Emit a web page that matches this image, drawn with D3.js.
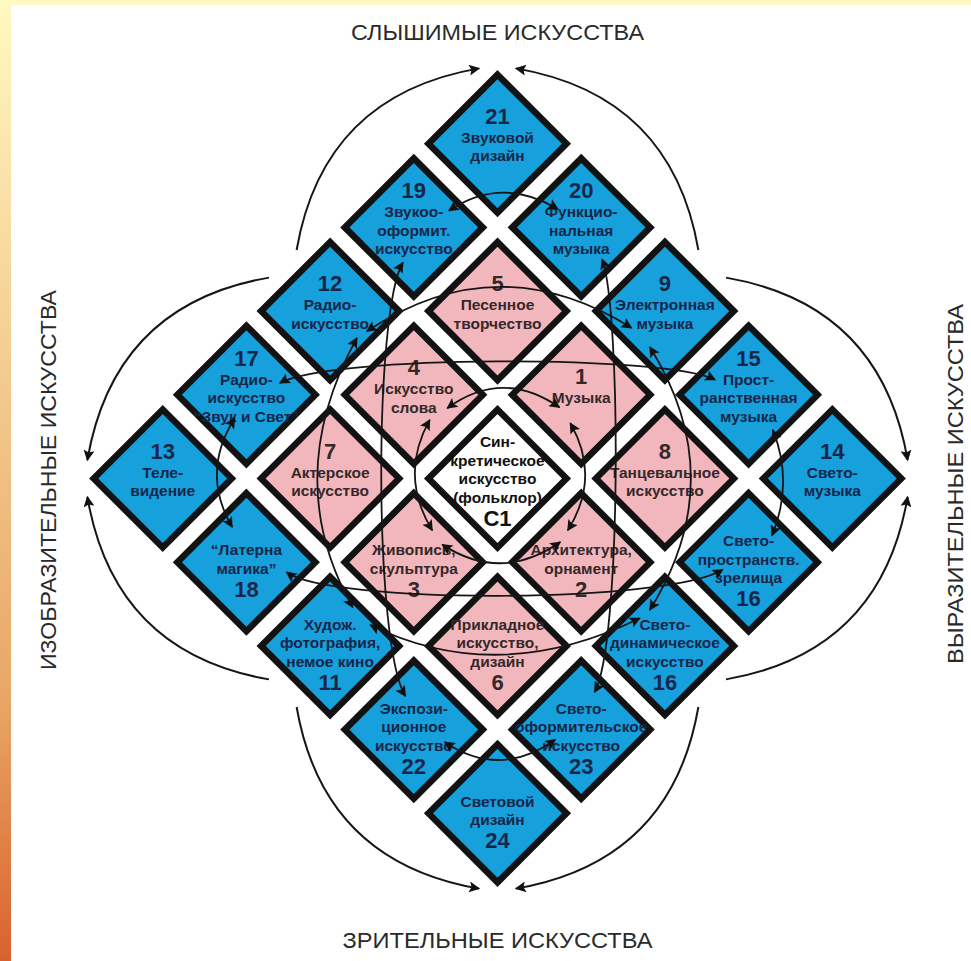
<!DOCTYPE html>
<html>
<head>
<meta charset="utf-8">
<script src="https://cdn.jsdelivr.net/npm/d3@7"></script>
<style>
  body { margin: 0; background: #fff; }
  svg { display: block; }
</style>
</head>
<body>
<div id="chart"></div>
<script>
// lattice of diamonds: column / row in units of the rotated grid
var cellCol = [0, -1, 1, -2, 0, 2, -3, -1, 1, 3, -4, -2, 0, 2, 4, -3, -1, 1, 3, -2, 0, 2, -1, 1, 0];
var cellRow = [-4, -3, -3, -2, -2, -2, -1, -1, -1, -1, 0, 0, 0, 0, 0, 1, 1, 1, 1, 2, 2, 2, 3, 3, 4];
// b = blue (синтетические), p = pink (базовые), w = centre
var cellKind = ['b','b','b','b','p','b','b','p','p','b','b','p','w','p','b','b','p','p','b','b','p','b','b','b','b'];
var cellNum = ['21','19','20','12','5','9','17','4','1','15','13','7','С1','8','14','18','3','2','16','11','6','16','22','23','24'];
var numTop = [1,1,1,1,1,1,1,1,1,1,1,1,0,1,1,0,0,0,0,0,0,0,0,0,0];
var cellLines = [
  ['Звуковой', 'дизайн'],
  ['Звукоо-', 'оформит.', 'искусство'],
  ['Функцио-', 'нальная', 'музыка'],
  ['Радио-', 'искусство'],
  ['Песенное', 'творчество'],
  ['Электронная', 'музыка'],
  ['Радио-', 'искусство', '\u201CЗвук и Свет\u201D'],
  ['Искусство', 'слова'],
  ['Музыка'],
  ['Прост-', 'ранственная', 'музыка'],
  ['Теле-', 'видение'],
  ['Актерское', 'искусство'],
  ['Син-', 'кретическое', 'искусство', '(фольклор)'],
  ['Танцевальное', 'искусство'],
  ['Свето-', 'музыка'],
  ['\u201CЛатерна', 'магика\u201D'],
  ['Живопись,', 'скульптура'],
  ['Архитектура,', 'орнамент'],
  ['Свето-', 'пространств.', 'зрелища'],
  ['Худож.', 'фотография,', 'немое кино'],
  ['Прикладное', 'искусство,', 'дизайн'],
  ['Свето-', 'динамическое', 'искусство'],
  ['Экспози-', 'ционное', 'искусство'],
  ['Свето-', 'оформительское', 'искусство'],
  ['Световой', 'дизайн']
];

// side captions
var sideNames = ['СЛЫШИМЫЕ ИСКУССТВА', 'ЗРИТЕЛЬНЫЕ ИСКУССТВА', 'ИЗОБРАЗИТЕЛЬНЫЕ ИСКУССТВА', 'ВЫРАЗИТЕЛЬНЫЕ ИСКУССТВА'];

// arrows, points in grid units [x, y] : start, control(s), end
var outerArcs = [
  [[-2.4, -2.73], [-2.08, -4.58], [-0.22, -4.9]],
  [[2.4, -2.73], [2.08, -4.58], [0.22, -4.9]],
  [[-2.73, -2.4], [-4.58, -2.08], [-4.9, -0.22]],
  [[-2.73, 2.4], [-4.58, 2.08], [-4.9, 0.22]],
  [[-2.4, 2.73], [-2.08, 4.58], [-0.22, 4.9]],
  [[2.4, 2.73], [2.08, 4.58], [0.22, 4.9]],
  [[2.73, -2.4], [4.58, -2.08], [4.9, -0.22]],
  [[2.73, 2.4], [4.58, 2.08], [4.9, 0.22]]
];
var innerLinks = [
  // 19 - 20 over 21
  [[-0.58, -3.2], [0.05, -3.62], [0.72, -3.22]],
  // 12 - 9 over 5
  [[-1.56, -1.76], [0, -2.8], [1.6, -1.8]],
  // 11 - 16 under 6
  [[-1.52, 1.75], [0, 2.5], [1.7, 1.67]],
  // 12 - 11 through 7
  [[-1.68, -1.68], [-2.6, 0], [-1.73, 1.54]],
  // 9 - 16 through 8
  [[1.82, -1.57], [2.8, 0], [1.82, 1.57]],
  // 17 - 15
  [[-2.6, -1.14], [-2.0, -1.48], [2.0, -1.48], [2.6, -1.18]],
  // 18 - 16
  [[-2.52, 1.12], [-2.0, 1.5], [2.0, 1.5], [2.69, 1.09]],
  // 19 - 22
  [[-1.13, -2.58], [-1.48, -2.0], [-1.48, 2.0], [-1.1, 2.6]],
  // 20 - 23
  [[1.25, -2.62], [1.48, -2.0], [1.48, 2.0], [1.16, 2.55]],
  // 17 - 18 via 13
  [[-3.14, -0.72], [-3.55, -0.07], [-3.17, 0.58]],
  // 15 - 16 via 14
  [[3.29, -0.58], [3.54, 0.05], [3.28, 0.68]],
  // 22 - 23 under 24
  [[-0.63, 3.15], [0.03, 3.59], [0.69, 3.12]],
  // around C1
  [[-0.6, -0.84], [0.06, -1.32], [0.74, -0.85]],
  [[-0.66, 0.79], [0.05, 1.25], [0.75, 0.76]],
  [[-0.81, -0.7], [-1.18, -0.04], [-0.78, 0.62]],
  [[0.87, -0.66], [1.24, -0.02], [0.84, 0.62]]
];

var W = 971, H = 961;
var cx = 497.5, cy = 478.5, step = 83.7, half = 69;
var fillColor = { b: '#16a0dc', p: '#f2b7bc', w: '#ffffff' };
var textColor = { b: '#172649', p: '#35282a', w: '#111111' };

var x = d3.scaleLinear().domain([-1, 1]).range([cx - step, cx + step]);
var y = d3.scaleLinear().domain([-1, 1]).range([cy - step, cy + step]);

var svg = d3.select('#chart').append('svg')
  .attr('width', W)
  .attr('height', H);

var defs = svg.append('defs');
var grad = defs.append('linearGradient')
  .attr('id', 'strip')
  .attr('x1', 0).attr('y1', 0).attr('x2', 0).attr('y2', 1);
grad.append('stop').attr('offset', '0').attr('stop-color', '#fff9c2');
grad.append('stop').attr('offset', '0.3').attr('stop-color', '#f6d59a');
grad.append('stop').attr('offset', '0.73').attr('stop-color', '#e8a666');
grad.append('stop').attr('offset', '1').attr('stop-color', '#d9622c');

defs.append('marker')
  .attr('id', 'head')
  .attr('viewBox', '0 0 10 10')
  .attr('refX', 9).attr('refY', 5)
  .attr('markerUnits', 'userSpaceOnUse')
  .attr('markerWidth', 15).attr('markerHeight', 11)
  .attr('orient', 'auto-start-reverse')
  .append('path')
  .attr('d', 'M0,0 L10,5 L0,10 L2,5 z')
  .attr('fill', '#111');

// frame: yellow top band and orange strip on the left
svg.append('rect').attr('x', 0).attr('y', 0).attr('width', W).attr('height', 5).attr('fill', '#fff9c2');
svg.append('rect').attr('x', 0).attr('y', 0).attr('width', 11).attr('height', H).attr('fill', 'url(#strip)');

// diamonds
var cells = svg.append('g');
for (var i = 0; i < cellCol.length; i++) {
  var px = x(cellCol[i]), py = y(cellRow[i]);
  cells.append('path')
    .attr('d', 'M' + px + ',' + (py - half) + 'L' + (px + half) + ',' + py +
               'L' + px + ',' + (py + half) + 'L' + (px - half) + ',' + py + 'Z')
    .style('fill', fillColor[cellKind[i]])
    .style('stroke', '#121212')
    .style('stroke-width', 6.5)
    .style('stroke-linejoin', 'miter');
}

// labels: number above the text in the upper half, below it in the lower half
var numSize = 22, lblSize = 15.5, numH = 24, lblH = 18.5;
for (var i = 0; i < cellCol.length; i++) {
  var rows = cellLines[i].map(function(t) { return { t: t, num: false }; });
  var n = { t: cellNum[i], num: true };
  if (numTop[i]) rows.unshift(n); else rows.push(n);
  var total = d3.sum(rows, function(r) { return r.num ? numH : lblH; });
  var shift = cellKind[i] == 'w' ? 3 : (numTop[i] ? -9 : 9);
  var ty = y(cellRow[i]) - total / 2 + shift;
  var g = cells.append('g');
  rows.forEach(function(r) {
    var h = r.num ? numH : lblH;
    g.append('text')
      .attr('x', x(cellCol[i]))
      .attr('y', ty + h / 2)
      .attr('text-anchor', 'middle')
      .attr('dominant-baseline', 'central')
      .style('font-family', '"Liberation Sans", Arial, sans-serif')
      .style('font-weight', 'bold')
      .style('font-size', (r.num ? numSize : lblSize) + 'px')
      .style('fill', textColor[cellKind[i]])
      .text(r.t);
    ty += h;
  });
}

// arrows
function curve(pts) {
  var p = d3.path();
  p.moveTo(x(pts[0][0]), y(pts[0][1]));
  if (pts.length == 3)
    p.quadraticCurveTo(x(pts[1][0]), y(pts[1][1]), x(pts[2][0]), y(pts[2][1]));
  else
    p.bezierCurveTo(x(pts[1][0]), y(pts[1][1]), x(pts[2][0]), y(pts[2][1]), x(pts[3][0]), y(pts[3][1]));
  return p.toString();
}

var arrows = svg.append('g').style('fill', 'none').style('stroke', '#161616');
outerArcs.forEach(function(a) {
  arrows.append('path')
    .attr('d', curve(a))
    .style('stroke-width', 2)
    .attr('marker-end', 'url(#head)');
});
innerLinks.forEach(function(a) {
  arrows.append('path')
    .attr('d', curve(a))
    .style('stroke-width', 1.8)
    .attr('marker-start', 'url(#head)')
    .attr('marker-end', 'url(#head)');
});

// side captions
var capStyle = function(t) {
  return t.attr('text-anchor', 'middle')
    .style('font-family', '"Liberation Sans Narrow", "Liberation Sans", Arial, sans-serif')
    .style('font-size', '22px')
    .style('fill', '#2a2a2a')
    .attr('lengthAdjust', 'spacingAndGlyphs');
};
capStyle(svg.append('text').attr('x', cx).attr('y', 40).attr('textLength', 293).text(sideNames[0]));
capStyle(svg.append('text').attr('x', cx).attr('y', 948).attr('textLength', 310).text(sideNames[1]));
capStyle(svg.append('text')
  .attr('transform', 'translate(56,' + 480 + ') rotate(-90)')
  .attr('textLength', 380).text(sideNames[2]));
capStyle(svg.append('text')
  .attr('transform', 'translate(963,' + 484 + ') rotate(-90)')
  .attr('textLength', 360).text(sideNames[3]));
</script>
</body>
</html>
